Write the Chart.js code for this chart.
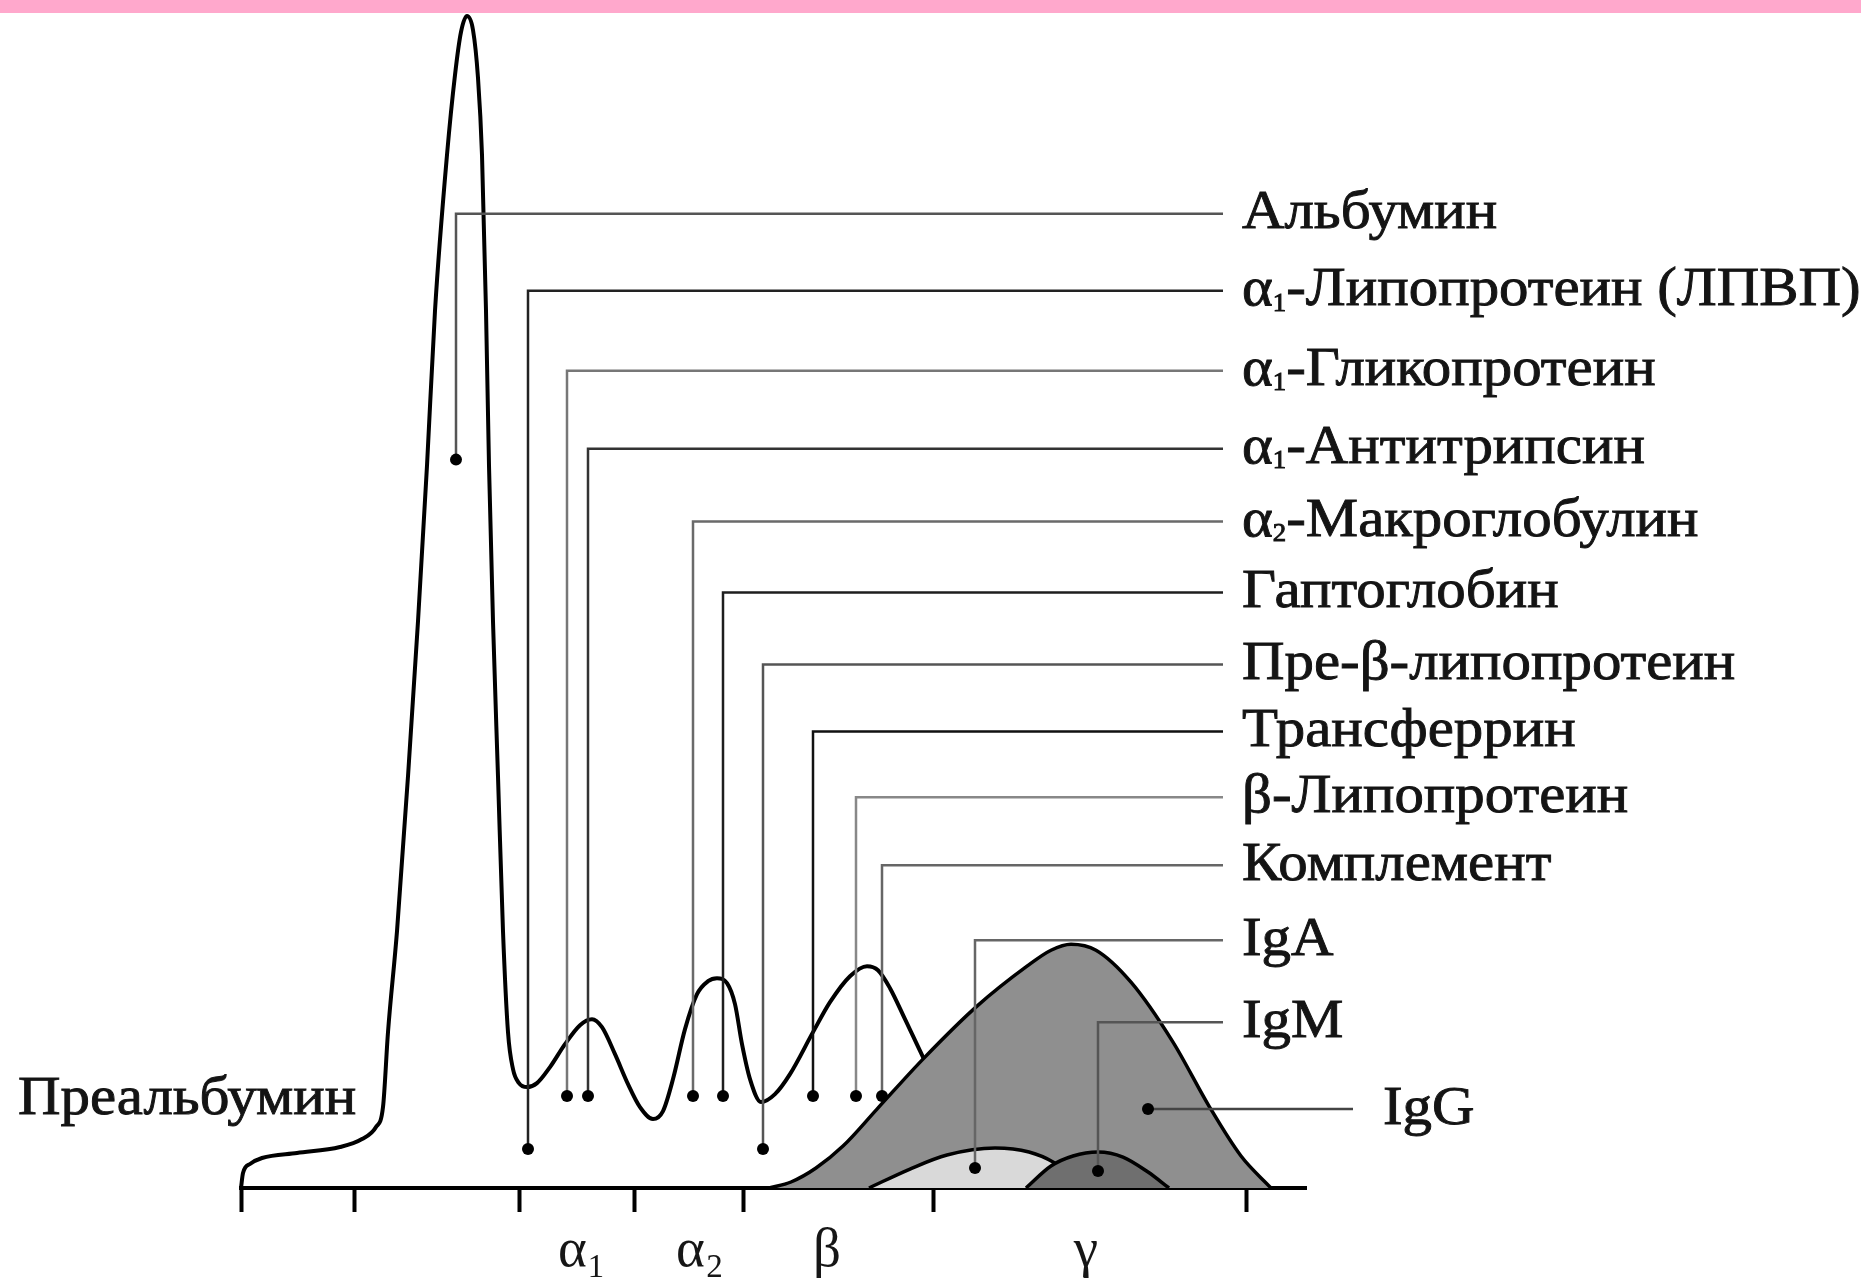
<!DOCTYPE html>
<html lang="ru">
<head>
<meta charset="utf-8">
<title>Электрофореграмма белков сыворотки крови</title>
<script src="https://cdn.jsdelivr.net/npm/chart.js@4.4.1/dist/chart.umd.min.js"></script>
<style>
  html, body { margin: 0; padding: 0; background: #fff; overflow: hidden; }
  #wrap { position: relative; width: 1861px; height: 1278px; }
  #band { position: absolute; left: 0; top: 0; width: 1861px; height: 13px; background: #ffa8cc; }
  canvas { display: block; }
</style>
</head>
<body>
<div id="wrap">
  <canvas id="chart" width="1861" height="1278"></canvas>
  <div id="band"></div>
</div>
<script>
// Densitogram: x = migration distance, y = optical density (relative units)
const totalProtein = [
  [0, 0], [0.2, 1.5], [0.9, 2.4], [2.1, 3.0], [5.6, 3.5], [9.9, 4.1], [12.1, 4.9], [13.5, 6.1], [14.2, 8.1],
  [14.7, 15.6], [15.6, 25.7], [16.7, 41.2], [17.7, 56.7], [18.6, 72.3], [19.4, 87.8], [20.6, 103.4],
  [21.4, 111.4], [22.0, 115.7], [22.6, 117.3], [23.2, 115.9], [23.7, 111.1], [24.1, 103.4], [24.5, 87.8],
  [24.8, 72.3], [25.2, 56.7], [25.7, 41.2], [26.2, 25.7], [26.7, 15.6], [27.2, 11.9], [27.8, 10.5],
  [28.6, 10.1], [29.6, 10.5], [30.9, 12.1], [32.4, 14.4], [33.9, 16.3], [35.1, 16.9], [36.1, 16.1],
  [37.4, 13.4], [38.7, 10.4], [39.9, 8.1], [41.2, 6.9], [42.2, 7.7], [43.2, 10.9], [44.4, 15.9],
  [45.6, 19.4], [46.7, 20.7], [47.6, 21.0], [48.6, 20.5], [49.4, 18.4], [50.1, 14.4], [50.9, 10.9],
  [52.0, 8.6], [53.4, 9.4], [54.9, 11.4], [57.2, 15.6], [58.9, 18.6], [60.9, 21.2], [62.6, 22.2],
  [63.7, 21.8], [64.9, 20.0], [66.4, 16.9], [68.2, 13.1], [69.9, 9.7]
];
const igG = [
  [52.8, 0], [55.0, 0.6], [57.5, 2.0], [60.2, 4.2], [63.6, 7.9], [68.2, 12.9], [73.6, 18.2], [78.6, 22.2],
  [81.0, 23.8], [83.0, 24.4], [85.5, 23.8], [89.0, 20.6], [93.2, 14.6], [96.8, 8.2], [100.0, 3.2], [103.0, 0]
];
const igA = [
  [62.8, 0], [66.9, 1.9], [70.6, 3.3], [75.4, 4.0], [78.8, 3.6], [81.2, 2.6], [83.4, 0.9], [84.9, 0]
];
const igM = [
  [78.5, 0], [81.0, 2.2], [83.2, 3.2], [85.7, 3.6], [88.2, 3.1], [90.7, 1.6], [92.8, 0]
];

// Axis: fraction boundaries and fraction names
const fractionBounds = [0, 11.3, 27.8, 39.3, 50.2, 69.2, 100.5];
const fractionNames = ['α₁', 'α₂', 'β', 'γ'];
const fractionCentres = [34.1, 45.9, 58.6, 84.5];

// Proteins: where each one migrates, the marker height and the level of its caption
const proteinNames = [
  'Альбумин', 'α₁-Липопротеин (ЛПВП)', 'α₁-Гликопротеин', 'α₁-Антитрипсин', 'α₂-Макроглобулин',
  'Гаптоглобин', 'Пре-β-липопротеин', 'Трансферрин', 'β-Липопротеин', 'Комплемент', 'IgA', 'IgM', 'IgG'
];
const proteinPositions = [21.5, 28.7, 32.6, 34.7, 45.2, 48.2, 52.2, 57.2, 61.5, 64.1, 73.4, 85.7, 90.7];
const markerLevels = [72.9, 3.9, 9.2, 9.2, 9.2, 9.2, 3.9, 9.2, 9.2, 9.2, 2.0, 1.7, 7.9];
const labelLevels = [97.5, 89.8, 81.8, 74.0, 66.7, 59.6, 52.4, 45.7, 39.1, 32.3, 24.8, 16.6, 7.9];

// Layout / style only
const leaderReach = [98.2, 98.2, 98.2, 98.2, 98.2, 98.2, 98.2, 98.2, 98.2, 98.2, 98.2, 98.2, 111.2];
const leaderColours = ['#555', '#222', '#777', '#333', '#6a6a6a', '#1e1e1e', '#555', '#111', '#888', '#666', '#666', '#555', '#444'];
const prealbuminAt = { x: -22.3, y: 8.9 };
const FONT = '"Liberation Serif", "Times New Roman", "DejaVu Serif", serif';
const LABEL_SIZE = 55;
const LABEL_STRETCH = 1.07;

Chart.defaults.font.family = FONT;

function leaderDataset(i) {
  return {
    data: [
      [leaderReach[i], labelLevels[i]],
      [proteinPositions[i], labelLevels[i]],
      [proteinPositions[i], markerLevels[i]],
    ],
    borderColor: leaderColours[i],
    borderWidth: 2.5,
    tension: 0,
    clip: false,
    pointRadius: (ctx) => (ctx.dataIndex === 2 ? 6 : 0),
    pointBackgroundColor: '#000',
    pointBorderWidth: 0,
  };
}

function curveDataset(data, fillColour, width) {
  return {
    data,
    borderColor: '#000',
    borderWidth: width,
    backgroundColor: fillColour || 'rgba(0,0,0,0)',
    fill: fillColour ? 'origin' : false,
    cubicInterpolationMode: 'monotone',
    pointRadius: 0,
    clip: false,
  };
}

// text with subscript digits (₁, ₂) drawn as small lowered numerals, slightly widened
const SUBS = { '₁': '1', '₂': '2' };
function drawRich(ctx, text, x, y, size) {
  ctx.save();
  ctx.translate(x, y);
  ctx.scale(LABEL_STRETCH, 1);
  ctx.lineWidth = 0.9;
  ctx.strokeStyle = ctx.fillStyle;
  let cx = 0;
  let run = '';
  const put = (s, dy) => {
    ctx.fillText(s, cx, dy);
    ctx.strokeText(s, cx, dy);
    cx += ctx.measureText(s).width;
  };
  const flush = () => {
    if (!run) return;
    ctx.font = `${size}px ${FONT}`;
    put(run, 0);
    run = '';
  };
  for (const ch of text) {
    if (SUBS[ch]) {
      flush();
      ctx.font = `${Math.round(size * 0.45)}px ${FONT}`;
      put(SUBS[ch], size * 0.24);
    } else {
      run += ch;
    }
  }
  flush();
  ctx.restore();
}

const captions = {
  id: 'captions',
  afterDatasetsDraw(chart) {
    const { ctx, scales: { x, y } } = chart;
    ctx.save();
    ctx.fillStyle = '#141414';
    ctx.textBaseline = 'middle';
    ctx.textAlign = 'left';
    proteinNames.forEach((name, i) => {
      const gap = i === proteinNames.length - 1 ? 30 : 19;
      drawRich(ctx, name, x.getPixelForValue(leaderReach[i]) + gap, y.getPixelForValue(labelLevels[i]), LABEL_SIZE);
    });
    drawRich(ctx, 'Преальбумин', x.getPixelForValue(prealbuminAt.x), y.getPixelForValue(prealbuminAt.y), LABEL_SIZE);
    ctx.restore();
  },
};

new Chart(document.getElementById('chart'), {
  type: 'line',
  data: {
    datasets: [
      ...proteinNames.map((_, i) => leaderDataset(i)),
      curveDataset(igM, '#6f6f6f', 3.5),
      curveDataset(igA, '#d9d9d9', 3.5),
      curveDataset(igG, '#8f8f8f', 3.5),
      curveDataset(totalProtein, null, 4),
    ],
  },
  options: {
    responsive: false,
    animation: false,
    layout: { padding: { left: 241, right: 555, top: 14, bottom: -13 } },
    plugins: { legend: { display: false }, tooltip: { enabled: false } },
    scales: {
      x: {
        type: 'linear', min: 0, max: 106.5, weight: 0,
        afterBuildTicks: (s) => { s.ticks = fractionBounds.map((v) => ({ value: v })); },
        grid: { drawOnChartArea: false, drawTicks: true, tickLength: 24, tickWidth: 4, tickColor: '#000' },
        border: { display: true, color: '#000', width: 4 },
        ticks: { display: false },
      },
      x2: {
        type: 'linear', position: 'bottom', min: 0, max: 106.5, weight: 1,
        afterBuildTicks: (s) => { s.ticks = fractionCentres.map((v) => ({ value: v })); },
        grid: { display: false, drawTicks: false },
        border: { display: false },
        ticks: {
          padding: 12, autoSkip: false, maxRotation: 0, color: '#161616',
          font: { size: LABEL_SIZE, lineHeight: 1 },
          callback: (v, i) => fractionNames[i],
        },
      },
      y: { type: 'linear', min: 0, max: 117.5, display: false },
    },
  },
  plugins: [captions],
});
</script>
</body>
</html>
